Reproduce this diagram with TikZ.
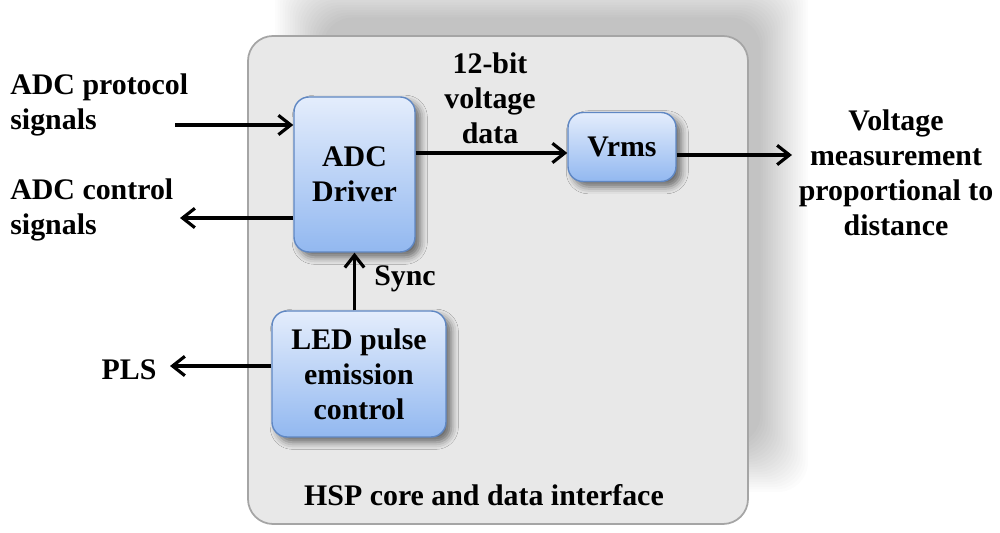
\documentclass[tikz,border=0pt]{standalone}
\usepackage{fontspec}
\setmainfont{Liberation Serif}
\usetikzlibrary{arrows.meta,shadows.blur}

\definecolor{coregray}{RGB}{232,232,232}
\definecolor{coreline}{RGB}{165,165,165}
\definecolor{blocktop}{RGB}{228,237,252}
\definecolor{blockbot}{RGB}{146,184,240}
\definecolor{blockline}{RGB}{95,135,195}

\begin{document}
\begin{tikzpicture}[
  font=\fontsize{17}{20}\selectfont\bfseries,
  block/.style={draw=blockline, line width=0.8pt, rounded corners=0.3cm,
    top color=blocktop, bottom color=blockbot, align=center,
    blur shadow={shadow xshift=3pt, shadow yshift=-3pt, shadow blur radius=4pt, shadow opacity=55}},
  lbl/.style={align=center, inner sep=0pt},
  sig/.style={draw, line width=1.8pt, -{Straight Barb[length=7pt,width=11pt]}}
]
\useasboundingbox (0,0) rectangle (20,10.66);
\fill[white] (0,0) rectangle (20,10.66);

% soft shadow behind the core box
\foreach \d in {0,0.05,...,0.96}
  \fill[black, opacity=0.013, rounded corners=0.6cm] (5.5+\d,0.82+\d) rectangle (16.16-\d,11.26-\d);

% core box
\node[draw=coreline, line width=1pt, fill=coregray, rounded corners=0.5cm,
  minimum width=10cm, minimum height=9.76cm] (core) at (9.96,5.06) {};

\node[block, minimum width=2.42cm, minimum height=3.1cm] (adc) at (7.09,7.17) {ADC\\Driver};
\node[block, minimum width=2.16cm, minimum height=1.38cm] (vrms) at (12.44,7.72) {Vrms};
\node[block, minimum width=3.48cm, minimum height=2.52cm] (led) at (7.18,3.18) {LED pulse\\emission\\control};

\node[lbl, align=left, anchor=west] (proto) at (0.2,8.56) {ADC protocol\\signals};
\node[lbl, align=left, anchor=west] (ctrl) at (0.2,6.46) {ADC control\\signals};
\node[lbl] (pls) at (2.58,3.26) {PLS};
\node[lbl] (data) at (9.8,8.7) {12-bit\\voltage\\data};
\node[lbl] (sync) at (8.1,5.08) {Sync};
\node[lbl] (meas) at (17.92,7.2) {Voltage\\measurement\\proportional to\\distance};
\node[lbl] (hsp) at (9.68,0.76) {HSP core and data interface};

\coordinate (protoin) at (3.5,8.16);
\coordinate (ctrlout) at (3.6,6.3);
\coordinate (datay) at (0,7.6);
\coordinate (measin) at (15.84,7.56);
\coordinate (plsout) at (3.4,3.34);

\path[sig] (protoin) -- (protoin -| adc.west);
\path[sig] (adc.west |- ctrlout) -- (ctrlout);
\path[sig] (adc.east |- datay) -- (vrms.west |- datay);
\path[sig] (vrms.east |- measin) -- (measin);
\path[sig] (led.north -| adc.south) -- (adc.south);
\path[sig] (led.west |- plsout) -- (plsout);
\end{tikzpicture}
\end{document}
